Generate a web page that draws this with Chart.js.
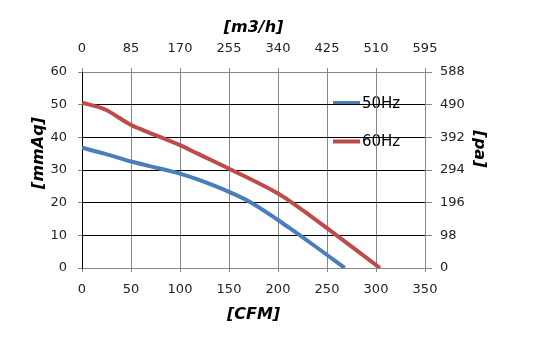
<!DOCTYPE html>
<html>
<head>
<meta charset="utf-8">
<script src="https://cdn.jsdelivr.net/npm/chart.js@4"></script>
<style>
  body { margin: 0; background: #fff; }
  #wrap { width: 537px; height: 340px; }
</style>
</head>
<body>
<div id="wrap"><canvas id="fanChart" width="537" height="340"></canvas></div>
<script>
// Kurva kipas: aliran (CFM) vs tekanan (mmAq)
const flow50 = [0, 23, 50, 69, 100, 118, 150, 171, 200, 212, 240, 268];
const press50 = [36.8, 35.0, 32.6, 31.2, 28.9, 27.1, 23.3, 20.3, 14.7, 12.2, 6.2, 0];

const flow60 = [0, 23, 50, 64, 100, 118, 150, 200, 212, 232, 250, 304];
const press60 = [50.6, 48.6, 43.8, 42.0, 37.6, 35.0, 30.4, 22.8, 20.5, 16.2, 12.2, 0];

const seriesNames = ['50Hz', '60Hz'];
const seriesColors = ['#4A7EBB', '#BE4B48'];

// Sumbu: CFM bawah, m3/h atas, mmAq kiri, Pa kanan
const cfmTicks = [0, 350, 50];
const m3hTicks = [0, 595, 85];
const mmaqTicks = [0, 60, 10];
const paTicks = [0, 588, 98];

const toPoints = (xs, ys) => xs.map((x, i) => ({ x: x, y: ys[i] }));

const tickFont = { family: 'DejaVu Sans', size: 13 };
const titleFont = { family: 'DejaVu Sans', size: 16, weight: 'bold', style: 'italic' };
const grey = '#868686';

const data = {
    datasets: [
        {
            label: seriesNames[0],
            data: toPoints(flow50, press50),
            borderColor: seriesColors[0],
            borderWidth: 4,
            pointRadius: 0,
            cubicInterpolationMode: 'monotone',
            xAxisID: 'x',
            yAxisID: 'y'
        },
        {
            label: seriesNames[1],
            data: toPoints(flow60, press60),
            borderColor: seriesColors[1],
            borderWidth: 4,
            pointRadius: 0,
            cubicInterpolationMode: 'monotone',
            xAxisID: 'x',
            yAxisID: 'y'
        }
    ]
};

// legenda di dalam area plot, digambar sebelum grid supaya garis grid lewat di atas teks
const legendInside = {
    id: 'legendInside',
    beforeDraw(chart) {
        const { ctx, chartArea } = chart;
        ctx.save();
        chart.data.datasets.forEach((ds, i) => {
            const y = chartArea.top + 31 + i * 38.5;
            ctx.strokeStyle = ds.borderColor;
            ctx.lineWidth = 4;
            ctx.beginPath();
            ctx.moveTo(chartArea.right - 92, y);
            ctx.lineTo(chartArea.right - 65, y);
            ctx.stroke();
            ctx.fillStyle = '#000';
            ctx.font = '15px "DejaVu Sans"';
            ctx.textBaseline = 'middle';
            ctx.fillText(ds.label, chartArea.right - 63, y + 1);
        });
        ctx.restore();
    }
};

// judul sumbu vertikal (sedikit di atas tengah, seperti aslinya)
const sideTitles = {
    id: 'sideTitles',
    afterDraw(chart) {
        const { ctx, chartArea } = chart;
        const midY = (chartArea.top + chartArea.bottom) / 2;
        ctx.save();
        ctx.fillStyle = '#000';
        ctx.font = 'italic bold 16px "DejaVu Sans"';
        ctx.textAlign = 'center';
        ctx.textBaseline = 'middle';

        ctx.save();
        ctx.translate(chartArea.left - 43, midY - 17);
        ctx.rotate(-Math.PI / 2);
        ctx.fillText('[mmAq]', 0, 0);
        ctx.restore();

        ctx.save();
        ctx.translate(chartArea.right + 54, midY - 21);
        ctx.rotate(Math.PI / 2);
        ctx.fillText('[pa]', 0, 0);
        ctx.restore();

        ctx.restore();
    }
};

const config = {
    type: 'line',
    data: data,
    options: {
        responsive: false,
        animation: false,
        layout: { padding: 0 },
        plugins: {
            legend: { display: false },
            tooltip: { enabled: false }
        },
        scales: {
            x: {
                type: 'linear',
                position: 'bottom',
                min: cfmTicks[0],
                max: cfmTicks[1],
                afterFit: (s) => { s.height = 72; },
                ticks: { stepSize: cfmTicks[2], font: tickFont, color: '#222', padding: 10, maxRotation: 0 },
                grid: {
                    color: (c) => (c.tick && c.tick.value === 0 ? '#000' : grey),
                    tickColor: grey,
                    tickLength: 4
                },
                border: { color: grey },
                title: {
                    display: true,
                    text: '[CFM]',
                    font: titleFont,
                    color: '#000',
                    padding: { top: 0, bottom: 16 }
                }
            },
            x2: {
                type: 'linear',
                position: 'top',
                min: m3hTicks[0],
                max: m3hTicks[1],
                afterFit: (s) => { s.height = 72; },
                ticks: { stepSize: m3hTicks[2], font: tickFont, color: '#222', padding: 12, maxRotation: 0 },
                grid: { drawOnChartArea: false, color: grey, tickLength: 4 },
                border: { color: grey },
                title: {
                    display: true,
                    text: '[m3/h]',
                    font: titleFont,
                    color: '#000',
                    padding: { top: 18, bottom: 0 }
                }
            },
            y: {
                type: 'linear',
                position: 'left',
                min: mmaqTicks[0],
                max: mmaqTicks[1],
                afterFit: (s) => { s.width = 82; },
                ticks: { stepSize: mmaqTicks[2], font: tickFont, color: '#222', padding: 11 },
                grid: {
                    color: (c) => (c.tick && (c.tick.value === 0 || c.tick.value === 60) ? grey : '#000'),
                    tickColor: grey,
                    tickLength: 4
                },
                border: { color: '#000' }
            },
            y2: {
                type: 'linear',
                position: 'right',
                min: paTicks[0],
                max: paTicks[1],
                afterFit: (s) => { s.width = 112; },
                ticks: { stepSize: paTicks[2], font: tickFont, color: '#222', padding: 8 },
                grid: { drawOnChartArea: false, color: grey, tickLength: 7 },
                border: { color: grey }
            }
        }
    },
    plugins: [legendInside, sideTitles]
};

window.onload = () => {
    const ctx = document.getElementById('fanChart').getContext('2d');
    new Chart(ctx, config);
};
</script>
</body>
</html>
